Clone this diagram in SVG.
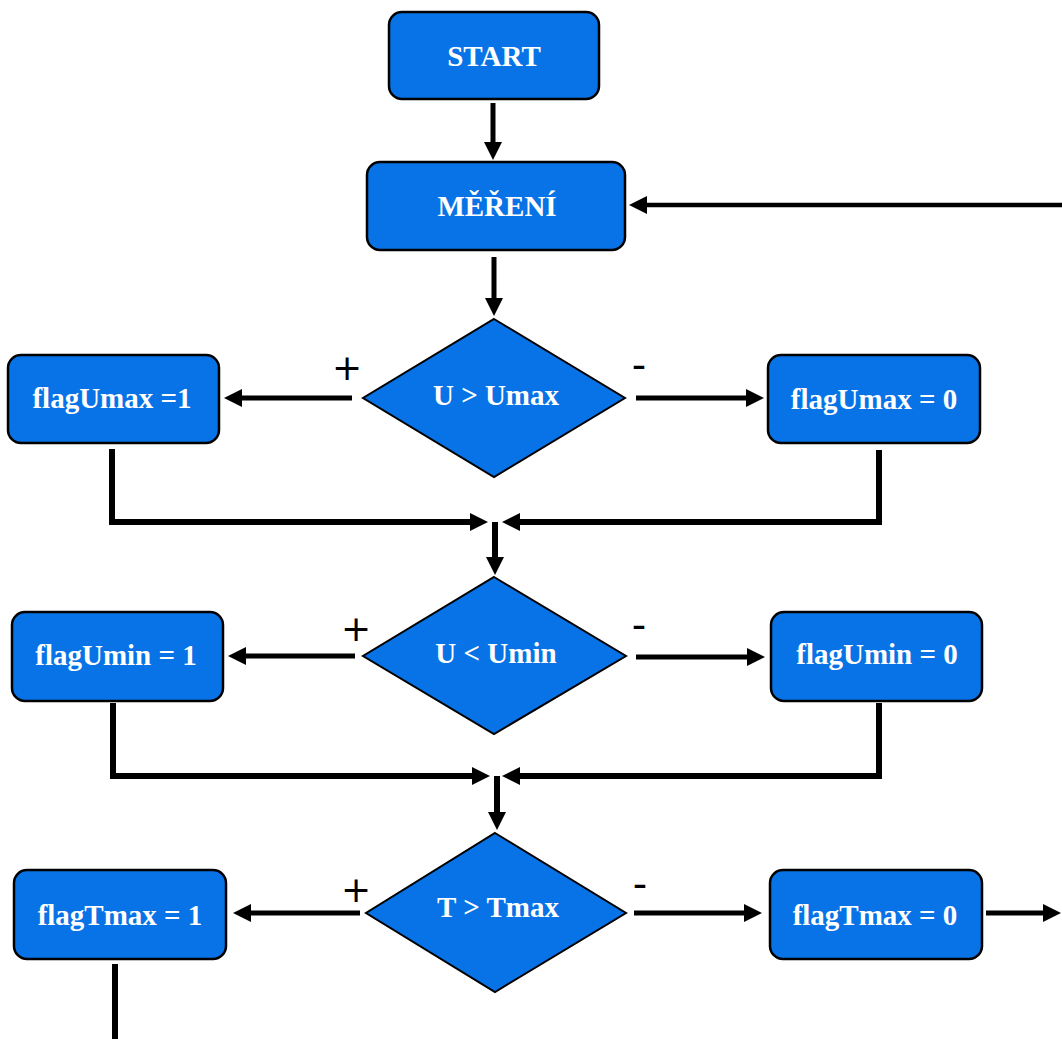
<svg xmlns="http://www.w3.org/2000/svg" width="1062" height="1039" viewBox="0 0 1062 1039">
  <style>
    .box { fill: #0873e6; stroke: #000; stroke-width: 2.5; }
    .dec { fill: #0873e6; stroke: #000; stroke-width: 2; }
    .lbl { font-family: "Liberation Serif", "Times New Roman", serif; font-weight: bold; font-size: 29px; fill: #fff; text-anchor: middle; }
    .sign { font-family: "DejaVu Sans", "Liberation Sans", sans-serif; fill: #000; text-anchor: middle; }
    .plus { font-size: 36px; }
    .minus { font-size: 40px; }
    .ln { fill: none; stroke: #000; stroke-width: 5; stroke-linejoin: miter; stroke-linecap: butt; }
    .thick { stroke-width: 6; }
    .thin { stroke-width: 4.5; }
  </style>
  <defs>
    <marker id="head" markerUnits="userSpaceOnUse" markerWidth="19" markerHeight="19" refX="0" refY="9" orient="auto" overflow="visible">
      <path d="M0,0 L18,9 L0,18 Z" fill="#000"/>
    </marker>
  </defs>

  <rect width="1062" height="1039" fill="#fff"/>

  <!-- connectors -->
  <g id="connectors">
    <line class="ln" x1="493" y1="103" x2="493" y2="142" marker-end="url(#head)"/>
    <line class="ln thin" x1="1062" y1="205" x2="647" y2="205" marker-end="url(#head)"/>
    <line class="ln" x1="494" y1="257" x2="494" y2="298" marker-end="url(#head)"/>

    <line class="ln" x1="352" y1="398" x2="242" y2="398" marker-end="url(#head)"/>
    <line class="ln" x1="636" y1="398" x2="746" y2="398" marker-end="url(#head)"/>
    <polyline class="ln thick" points="112,449 112,522 470,522" marker-end="url(#head)"/>
    <polyline class="ln thick" points="879,450 879,522 520,522" marker-end="url(#head)"/>
    <line class="ln thick" x1="495" y1="522" x2="495" y2="557" marker-end="url(#head)"/>

    <line class="ln" x1="355" y1="656" x2="246" y2="656" marker-end="url(#head)"/>
    <line class="ln" x1="636" y1="657" x2="747" y2="657" marker-end="url(#head)"/>
    <polyline class="ln thick" points="113,703 113,776 472,776" marker-end="url(#head)"/>
    <polyline class="ln thick" points="879,703 879,776 520,776" marker-end="url(#head)"/>
    <line class="ln thick" x1="497" y1="776" x2="497" y2="812" marker-end="url(#head)"/>

    <line class="ln" x1="360" y1="913" x2="251" y2="913" marker-end="url(#head)"/>
    <line class="ln" x1="634" y1="913" x2="744" y2="913" marker-end="url(#head)"/>
    <line class="ln thick" x1="115" y1="964" x2="115" y2="1039"/>
    <line class="ln" x1="986" y1="913" x2="1043" y2="913" marker-end="url(#head)"/>

    <!-- branch signs -->
    <text class="sign plus" x="347" y="380">+</text>
    <text class="sign minus" x="639" y="379">-</text>
    <text class="sign plus" x="356" y="641">+</text>
    <text class="sign minus" x="639" y="639">-</text>
    <text class="sign plus" x="356" y="902">+</text>
    <text class="sign minus" x="640" y="898">-</text>
  </g>

  <g id="start">
    <rect class="box" x="389" y="12" width="210" height="87" rx="13"/>
    <text class="lbl" x="494" y="66">START</text>
  </g>

  <g id="mereni">
    <rect class="box" x="367" y="162" width="258" height="88" rx="13"/>
    <text class="lbl" x="497" y="216">MĚŘENÍ</text>
  </g>

  <g id="check-umax">
    <polygon class="dec" points="494,319 625,398 494,477 363,398"/>
    <text class="lbl" x="496" y="405">U &gt; Umax</text>
  </g>

  <g id="flag-umax-1">
    <rect class="box" x="8" y="355" width="211" height="88" rx="13"/>
    <text class="lbl" x="112" y="408">flagUmax =1</text>
  </g>

  <g id="flag-umax-0">
    <rect class="box" x="768" y="355" width="212" height="88" rx="13"/>
    <text class="lbl" x="874" y="409">flagUmax = 0</text>
  </g>

  <g id="check-umin">
    <polygon class="dec" points="494,577 626,656 494,734 363,656"/>
    <text class="lbl" x="496" y="663">U &lt; Umin</text>
  </g>

  <g id="flag-umin-1">
    <rect class="box" x="12" y="612" width="211" height="89" rx="13"/>
    <text class="lbl" x="116" y="665">flagUmin = 1</text>
  </g>

  <g id="flag-umin-0">
    <rect class="box" x="771" y="612" width="211" height="89" rx="13"/>
    <text class="lbl" x="877" y="664">flagUmin = 0</text>
  </g>

  <g id="check-tmax">
    <polygon class="dec" points="495,833 626,913 495,992 366,913"/>
    <text class="lbl" x="498" y="917">T &gt; Tmax</text>
  </g>

  <g id="flag-tmax-1">
    <rect class="box" x="14" y="870" width="212" height="89" rx="13"/>
    <text class="lbl" x="120" y="925">flagTmax = 1</text>
  </g>

  <g id="flag-tmax-0">
    <rect class="box" x="770" y="870" width="212" height="89" rx="13"/>
    <text class="lbl" x="875" y="925">flagTmax = 0</text>
  </g>
</svg>
